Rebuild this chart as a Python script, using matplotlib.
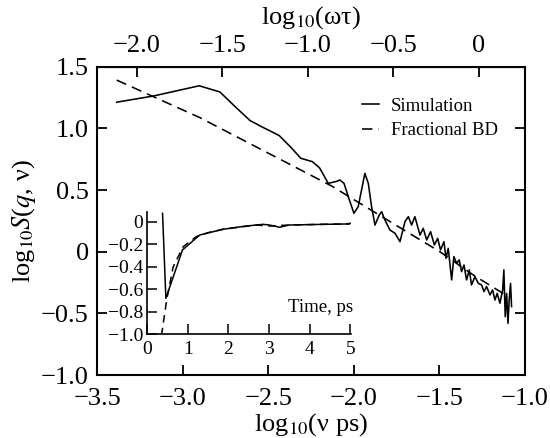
import matplotlib
matplotlib.use("Agg")
import matplotlib.pyplot as plt

plt.rcParams['font.family'] = ['Liberation Serif', 'DejaVu Serif']
plt.rcParams['mathtext.fontset'] = 'stix'
plt.rcParams['axes.unicode_minus'] = True

# ---- main panel data: log10(nu ps) vs log10 S(q, nu)
sim_x = [-3.385, -3.171, -2.903, -2.782, -2.700, -2.606, -2.524, -2.436, -2.370, -2.309,
         -2.242, -2.200, -2.149, -2.100, -2.081, -2.057, -2.032, -1.999, -1.974, -1.935,
         -1.915, -1.896, -1.876, -1.851, -1.837, -1.818, -1.789, -1.759, -1.730, -1.701,
         -1.681, -1.662, -1.643, -1.613, -1.594, -1.574, -1.551, -1.529, -1.510, -1.493,
         -1.473, -1.461, -1.448, -1.428, -1.415, -1.399, -1.384, -1.370, -1.356, -1.341,
         -1.325, -1.312, -1.292, -1.273, -1.253, -1.239, -1.224, -1.204, -1.189, -1.175,
         -1.162, -1.146, -1.130, -1.123, -1.115, -1.107, -1.099, -1.092, -1.084, -1.078]
sim_y = [1.212, 1.262, 1.345, 1.295, 1.185, 1.063, 1.003, 0.942, 0.850, 0.757,
         0.730, 0.680, 0.554, 0.570, 0.581, 0.554, 0.446, 0.311, 0.365, 0.635,
         0.554, 0.365, 0.216, 0.297, 0.324, 0.257, 0.176, 0.149, 0.081, 0.243,
         0.284, 0.216, 0.284, 0.135, 0.189, 0.095, 0.162, 0.054, 0.108, 0.014,
         0.081, -0.054, 0.027, -0.229, -0.040, -0.094, -0.067, -0.162, -0.108, -0.229,
         -0.148, -0.270, -0.202, -0.256, -0.270, -0.324, -0.283, -0.351, -0.310, -0.392,
         -0.338, -0.418, -0.310, -0.148, -0.527, -0.338, -0.581, -0.392, -0.257, -0.445]

fbd_x = [-3.385, -2.898, -2.129, -1.964, -1.691, -1.497, -1.302, -1.12]
fbd_y = [1.391, 1.086, 0.532, 0.392, 0.162, 0.000, -0.189, -0.345]

OMEGA_TAU_OFFSET = 1.268  # log10(omega tau) = log10(nu ps) + offset

x_ticks = [-3.5, -3.0, -2.5, -2.0, -1.5, -1.0]
x_ticklabels = ['\u22123.5', '\u22123.0', '\u22122.5', '\u22122.0', '\u22121.5', '\u22121.0']
y_ticks = [1.5, 1.0, 0.5, 0.0, -0.5, -1.0]
y_ticklabels = ['1.5', '1.0', '0.5', '0', '\u22120.5', '\u22121.0']
top_ticks = [-2.0, -1.5, -1.0, -0.5, 0.0]
top_ticklabels = ['\u22122.0', '\u22121.5', '\u22121.0', '\u22120.5', '0']

# ---- inset data: time (ps) vs correlation
t_sim = [0.376, 0.458, 0.867, 1.293, 1.866, 2.44, 2.85, 3.01, 3.26, 3.5, 4.32, 4.89, 5.0]
c_sim = [0.077, -0.680, -0.249, -0.116, -0.065, -0.036, -0.021, -0.027, -0.047, -0.027,
         -0.021, -0.018, -0.012]
t_fit = [0.35, 0.477, 0.639, 0.885, 1.21, 1.5, 1.866, 2.68, 3.01, 3.5, 4.32, 5.0]
c_fit = [-1.01, -0.695, -0.398, -0.22, -0.13, -0.095, -0.065, -0.027, -0.036, -0.027,
         -0.021, -0.018]
in_x_ticks = [0, 1, 2, 3, 4, 5]
in_x_ticklabels = ['0', '1', '2', '3', '4', '5']
in_y_ticks = [0, -0.2, -0.4, -0.6, -0.8, -1.0]
in_y_ticklabels = ['0', '\u22120.2', '\u22120.4', '\u22120.6', '\u22120.8', '\u22121.0']

fig = plt.figure(figsize=(5.5, 4.38), dpi=100)
ax = fig.add_axes([0.1764, 0.1438, 0.778, 0.704])

ax.plot(sim_x, sim_y, color='black', lw=1.15, label='Simulation')
ax.plot(fbd_x, fbd_y, color='black', lw=1.15, dashes=(6.5, 3.9), label='Fractional BD')

ax.set_xlim(-3.5, -1.0)
ax.set_ylim(-1.0, 1.5)
ax.set_xticks(x_ticks)
ax.set_xticklabels(x_ticklabels)
ax.set_yticks(y_ticks)
ax.set_yticklabels(y_ticklabels)
ax.tick_params(direction='in', length=7, width=1.3, labelsize=19, pad=6,
               right=True, top=False)
ax.tick_params(axis='x', pad=9)
for s in ax.spines.values():
    s.set_linewidth(1.5)

ax.set_xlabel('log$_{10}$(\u03bd ps)', fontsize=19, labelpad=1)
ax.set_ylabel('log$_{10}$$S$($q$, \u03bd)', fontsize=19, labelpad=2)

sec = ax.secondary_xaxis('top', functions=(lambda x: x + OMEGA_TAU_OFFSET,
                                           lambda x: x - OMEGA_TAU_OFFSET))
sec.set_xticks(top_ticks)
sec.set_xticklabels(top_ticklabels)
sec.tick_params(direction='in', length=7, width=1.3, labelsize=19, pad=7)
sec.set_xlabel('log$_{10}$(\u03c9\u03c4)', fontsize=19, labelpad=8)

leg = ax.legend(loc='upper right', bbox_to_anchor=(0.958, 0.93), frameon=False,
                fontsize=13.5, handlelength=0.9, handletextpad=0.6, borderpad=0,
                labelspacing=0.4)

# ---- inset
ins = fig.add_axes([0.2678, 0.2368, 0.3704, 0.280], facecolor='none')
ins.plot(t_sim, c_sim, color='black', lw=1.1)
ins.plot(t_fit, c_fit, color='black', lw=1.1, dashes=(5, 3.5))
ins.set_xlim(0, 5.02)
ins.set_ylim(-1.0, 0.092)
ins.set_xticks(in_x_ticks)
ins.set_xticklabels(in_x_ticklabels)
ins.set_yticks(in_y_ticks)
ins.set_yticklabels(in_y_ticklabels)
ins.spines['top'].set_visible(False)
ins.spines['right'].set_visible(False)
for s in ('left', 'bottom'):
    ins.spines[s].set_linewidth(1.2)
ins.tick_params(direction='in', length=7, width=1.1, labelsize=14, pad=3)
ins.tick_params(axis='x', pad=5)
ins.text(5.08, -0.765, 'Time, ps', fontsize=13.5, ha='right', va='center')

fig.savefig('out.png', dpi=100)
